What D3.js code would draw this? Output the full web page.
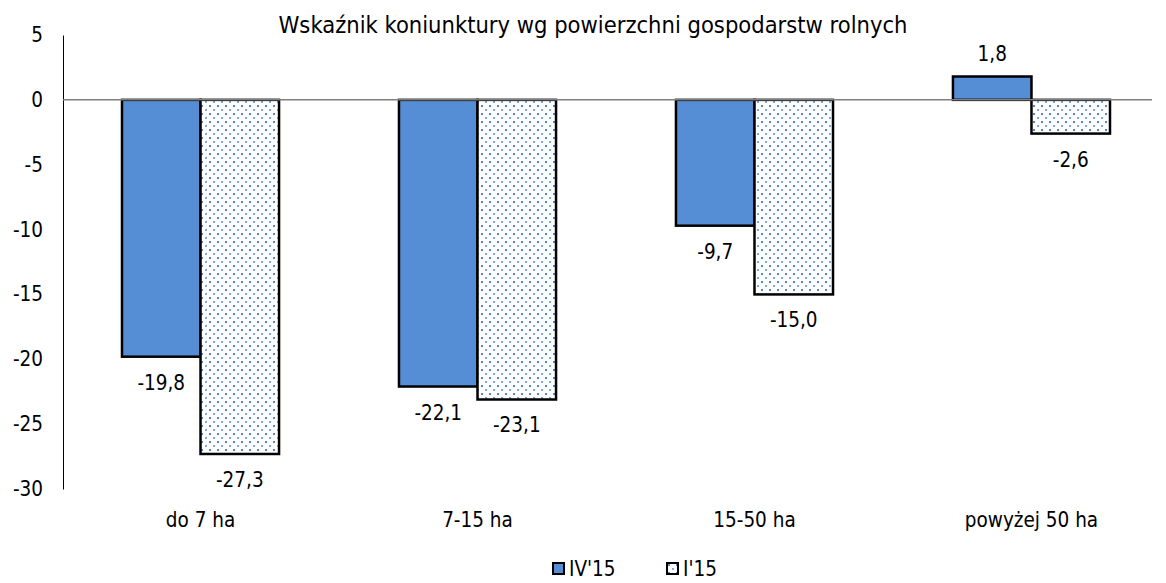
<!DOCTYPE html>
<html>
<head>
<meta charset="utf-8">
<script src="https://cdn.jsdelivr.net/npm/d3@7"></script>
<style>
  body { margin: 0; background: #fff; }
  text { font-family: "DejaVu Sans Condensed", "DejaVu Sans", sans-serif; fill: #000; }
</style>
</head>
<body>
<div id="chart"></div>
<script>
var categories = ["do 7 ha", "7-15 ha", "15-50 ha", "powyżej 50 ha"];
var seriesNames = ["IV'15", "I'15"];
var valuesIV = [-19.8, -22.1, -9.7, 1.8];
var valuesI = [-27.3, -23.1, -15.0, -2.6];
var yTicks = [5, 0, -5, -10, -15, -20, -25, -30];

var width = 1166, height = 583;
var plotLeft = 63, plotRight = 1152;
var fontSize = "20.5px";

var svg = d3.select("#chart").append("svg")
    .attr("width", width)
    .attr("height", height);

// kropkowany wzor dla drugiej serii
var defs = svg.append("defs");
var pat = defs.append("pattern")
    .attr("id", "dots")
    .attr("patternUnits", "userSpaceOnUse")
    .attr("width", 8)
    .attr("height", 8);
pat.append("rect").attr("width", 8).attr("height", 8).attr("fill", "#fff");
pat.append("rect").attr("x", 1).attr("y", 1).attr("width", 2).attr("height", 2).attr("fill", "#4f86d6");
pat.append("rect").attr("x", 5).attr("y", 5).attr("width", 2).attr("height", 2).attr("fill", "#7ea8e6");

var x = d3.scaleBand()
    .domain(categories)
    .range([plotLeft, 1169])
    .paddingInner(0.433)
    .paddingOuter(0.213);

var xInner = d3.scaleBand()
    .domain(seriesNames)
    .range([0, x.bandwidth()]);

var y = d3.scaleLinear()
    .domain([-30, 5])
    .range([489, 35]);

var fills = ["#558ed5", "url(#dots)"];

// os y
var yAxis = svg.append("g")
    .attr("transform", "translate(" + plotLeft + ",0)")
    .call(d3.axisLeft(y).tickValues(yTicks).tickSize(0).tickPadding(20)
        .tickFormat(function(d) { return d3.format("d")(d).replace("−", "-"); }));
yAxis.select(".domain").attr("stroke", "#000").attr("stroke-width", 1);
yAxis.selectAll("text").style("font-size", fontSize).style("font-family", "'DejaVu Sans Condensed', 'DejaVu Sans', sans-serif");

// title
svg.append("text")
    .attr("x", 593)
    .attr("y", 33)
    .attr("text-anchor", "middle")
    .style("font-size", "23.5px")
    .text("Wskaźnik koniunktury wg powierzchni gospodarstw rolnych");

var data = [];
categories.forEach(function(c, i) {
    data.push({cat: c, s: 0, v: valuesIV[i]});
    data.push({cat: c, s: 1, v: valuesI[i]});
});

var bars = svg.append("g");
bars.selectAll("rect")
    .data(data)
    .enter()
    .append("rect")
    .attr("x", function(d) { return x(d.cat) + xInner(seriesNames[d.s]); })
    .attr("width", xInner.bandwidth())
    .attr("y", function(d) { return y(Math.max(0, d.v)); })
    .attr("height", function(d) { return Math.abs(y(d.v) - y(0)); })
    .attr("fill", function(d) { return fills[d.s]; })
    .attr("stroke", "#000")
    .attr("stroke-width", 2.5);

// zero line
svg.append("line")
    .attr("x1", plotLeft)
    .attr("x2", plotRight)
    .attr("y1", y(0))
    .attr("y2", y(0))
    .attr("stroke", "#7f7f7f")
    .attr("stroke-width", 1.5);

// labels
svg.append("g").selectAll("text")
    .data(data)
    .enter()
    .append("text")
    .attr("x", function(d) { return x(d.cat) + xInner(seriesNames[d.s]) + xInner.bandwidth() / 2; })
    .attr("y", function(d) { return d.v < 0 ? y(d.v) + 33 : y(d.v) - 16; })
    .attr("text-anchor", "middle")
    .style("font-size", fontSize)
    .text(function(d) { return d3.format(".1f")(d.v).replace(".", ",").replace("−", "-"); });

// category labels
svg.append("g").selectAll("text")
    .data(categories)
    .enter()
    .append("text")
    .attr("x", function(d) { return x(d) + x.bandwidth() / 2; })
    .attr("y", 527)
    .attr("text-anchor", "middle")
    .style("font-size", fontSize)
    .text(function(d) { return d; });

// legenda
var legendX = [553, 667];
var legend = svg.append("g").selectAll("g")
    .data(seriesNames)
    .enter()
    .append("g")
    .attr("transform", function(d, i) { return "translate(" + legendX[i] + ",563)"; });
legend.append("rect")
    .attr("x", 0).attr("y", 0)
    .attr("width", 11).attr("height", 11)
    .attr("fill", function(d, i) { return fills[i]; })
    .attr("stroke", "#000")
    .attr("stroke-width", 2);
legend.append("text")
    .attr("x", 16)
    .attr("y", 12.5)
    .style("font-size", fontSize)
    .text(function(d) { return d; });
</script>
</body>
</html>
